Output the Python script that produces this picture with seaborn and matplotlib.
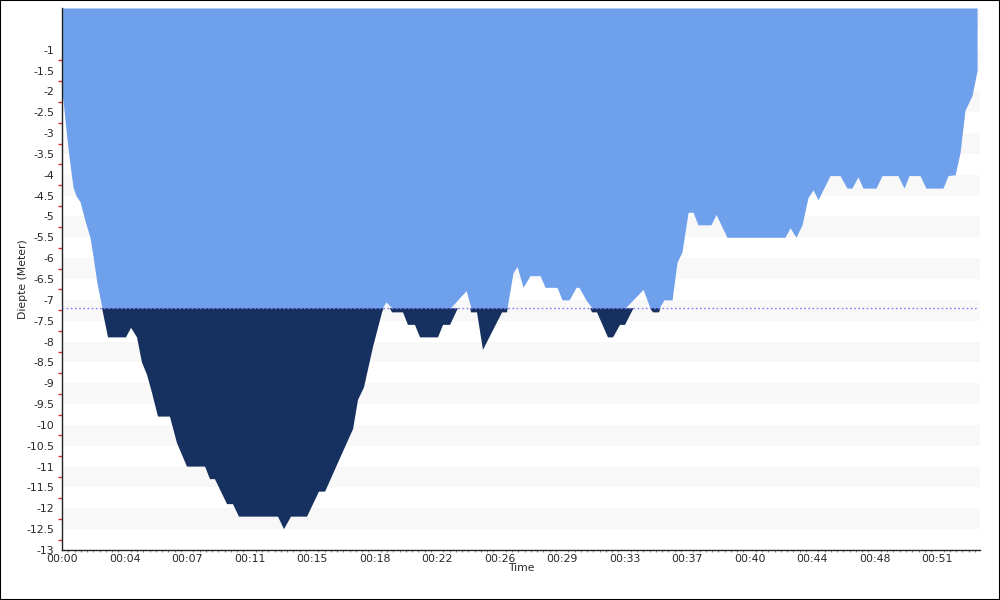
import numpy as np
import pandas as pd
import matplotlib
matplotlib.use("Agg")
import matplotlib.pyplot as plt
import seaborn as sns
from matplotlib.ticker import FixedLocator, MultipleLocator
from matplotlib.patches import Rectangle

# ---- data (time in minutes, depth in meters) ----
time_min = [0.0, 0.12, 0.23, 0.35, 0.47, 0.65, 0.82, 1.06, 1.35, 1.64, 1.82, 2.05,
            2.35, 2.70, 3.75, 4.05, 4.40, 4.69, 4.99, 5.28, 5.63, 6.33, 6.74, 7.33,
            8.39, 8.68, 8.97, 9.68, 10.03, 10.38, 12.67, 13.02, 13.43, 14.37, 15.07,
            15.43, 16.30, 17.07, 17.36, 17.71, 18.24, 18.77, 19.00, 19.36, 20.00,
            20.29, 20.70, 21.00, 22.05, 22.35, 22.76, 23.70, 23.99, 24.34, 24.69,
            25.81, 26.10, 26.45, 26.69, 27.04, 27.45, 28.04, 28.33, 29.03, 29.33,
            29.74, 30.15, 30.32, 30.73, 31.09, 31.38, 32.02, 32.32, 32.73, 33.02,
            34.08, 34.49, 34.66, 35.01, 35.31, 35.78, 36.07, 36.36, 36.72, 37.01,
            37.30, 38.06, 38.36, 39.00, 42.40, 42.70, 43.05, 43.40, 43.75, 44.05,
            44.34, 45.04, 45.63, 46.04, 46.33, 46.68, 46.98, 47.74, 48.09, 49.03,
            49.38, 49.68, 50.32, 50.67, 51.67, 51.96, 52.38, 52.67, 52.96, 53.14,
            53.37, 53.67]
depth_m = [-2.0, -2.45, -2.9, -3.35, -3.75, -4.3, -4.5, -4.65, -5.1, -5.5, -5.95, -6.6,
           -7.2, -7.9, -7.9, -7.67, -7.9, -8.5, -8.8, -9.23, -9.8, -9.8, -10.43, -11.0,
           -11.0, -11.3, -11.3, -11.9, -11.9, -12.2, -12.2, -12.5, -12.2, -12.2, -11.6,
           -11.6, -10.8, -10.1, -9.4, -9.1, -8.13, -7.3, -7.05, -7.3, -7.3,
           -7.6, -7.6, -7.9, -7.9, -7.6, -7.6, -6.78, -7.3, -7.3, -8.2,
           -7.3, -7.3, -6.35, -6.2, -6.7, -6.42, -6.42, -6.7, -6.7, -7.0,
           -7.0, -6.7, -6.7, -7.0, -7.3, -7.3, -7.9, -7.9, -7.6, -7.6,
           -6.75, -7.2, -7.3, -7.3, -7.0, -7.0, -6.1, -5.85, -4.9, -4.9,
           -5.2, -5.2, -4.95, -5.5, -5.5, -5.27, -5.5, -5.2, -4.55, -4.36,
           -4.6, -4.02, -4.02, -4.32, -4.32, -4.05, -4.32, -4.32, -4.02, -4.02,
           -4.32, -4.02, -4.02, -4.32, -4.32, -4.02, -4.0, -3.47, -2.45, -2.3,
           -2.1, -1.5]
threshold = -7.2
xtick_labels = ["00:00", "00:04", "00:07", "00:11", "00:15", "00:18", "00:22", "00:26",
                "00:29", "00:33", "00:37", "00:40", "00:44", "00:48", "00:51"]
tick_step_min = 11 / 3  # 220 seconds

df = pd.DataFrame({"time": time_min, "depth": depth_m})

# ---- style ----
sns.set_style("white")
plt.rcParams["font.family"] = ["DejaVu Sans"]

LIGHT = "#6fa0ec"
DARK = "#16305f"

fig = plt.figure(figsize=(10, 6), dpi=100)
ax = fig.add_axes([0.062, 1 - 550 / 600, 0.918, (550 - 8) / 600])

t = df["time"].to_numpy()
d = df["depth"].to_numpy()
xmax = 53.84

# background bands
for k in range(13):
    ax.axhspan(-k - 0.5, -k, xmin=0, xmax=1, color="#f8f8f8", lw=0, zorder=0)

# fills
ax.fill_between(t, 0, np.maximum(d, threshold), color=LIGHT, lw=0, zorder=2)
ax.fill_between(t, threshold, d, where=d < threshold, interpolate=True,
                color=DARK, lw=0, zorder=2)
sns.lineplot(data=df, x="time", y="depth", ax=ax, color=LIGHT, lw=0, zorder=1)

ax.hlines(threshold, 0, t[-1], colors="#8080ff", linestyles=(0, (1.2, 1.8)),
          lw=1, zorder=3)

ax.set_xlim(0, xmax)
ax.set_ylim(-13, 0)

# y ticks
ax.yaxis.set_major_locator(FixedLocator(np.arange(-13, -0.99, 0.5)))
ax.yaxis.set_minor_locator(FixedLocator(np.arange(-12.75, -1.0, 0.5)))
ax.set_yticklabels([f"{v:g}" for v in np.arange(-13, -0.99, 0.5)])
ax.tick_params(axis="y", which="major", direction="out", length=4, width=1,
               color="#333333", labelsize=7.8, pad=1.5)
ax.tick_params(axis="y", which="minor", direction="out", length=3, width=1,
               color="#e03030", left=True)

# x ticks
xt = [i * tick_step_min for i in range(len(xtick_labels))]
ax.set_xticks(xt)
ax.set_xticklabels(xtick_labels)
ax.xaxis.set_minor_locator(MultipleLocator(tick_step_min / 10))
ax.tick_params(axis="x", which="major", direction="inout", length=6, width=1,
               color="#333333", labelsize=7.8, pad=0)
ax.tick_params(axis="x", which="minor", direction="out", length=1.5, width=0.8,
               color="#888888", bottom=True)

for s in ["top", "right"]:
    ax.spines[s].set_visible(False)
for s in ["left", "bottom"]:
    ax.spines[s].set_color("#222222")
    ax.spines[s].set_linewidth(1)

ax.set_xlabel("Time", fontsize=7.8, labelpad=-1)
ax.set_ylabel("Diepte (Meter)", fontsize=7.8, labelpad=-1)
ax.grid(False)

fig.patches.append(Rectangle((0, 0), 1, 1, transform=fig.transFigure,
                             fill=False, edgecolor="black", lw=1.5, zorder=10))

fig.savefig("out.png", dpi=100)
